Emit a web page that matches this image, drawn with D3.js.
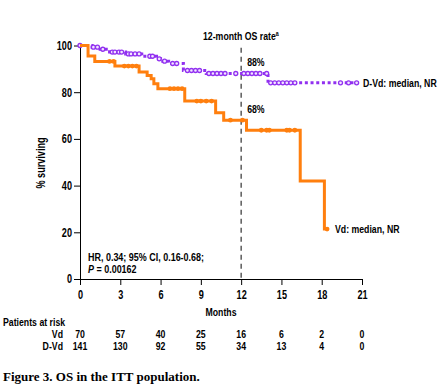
<!DOCTYPE html>
<html><head><meta charset="utf-8">
<script src="https://cdn.jsdelivr.net/npm/d3@7"></script>
<style>
body{margin:0;background:#fff;}
text{font-family:"Liberation Sans",Arial,sans-serif;font-weight:bold;fill:#000;}
</style></head><body>
<svg id="c" width="441" height="391"></svg>
<script>
// ---- data ----
const xTicks = [0,3,6,9,12,15,18,21];
const yTicks = [0,20,40,60,80,100];
// Vd (orange): step times and survival after each step
const vdTimes = [0, 0.6, 1.1, 2.6, 4.4, 5.0, 5.3, 5.5, 5.8, 7.8, 10.1, 10.7, 12.4, 16.4, 18.2, 18.4];
const vdSurv  = [100, 95.5, 93.2, 91.2, 88.6, 87.2, 85.8, 83.6, 81.5, 76.2, 71.2, 68.0, 63.7, 42.0, 21.4, 21.4];
const vdCensor = [2.2, 2.5, 3.3, 3.6, 3.9, 4.2, 6.7, 7.0, 7.3, 7.6, 8.7, 9.0, 9.4, 9.8, 11.2, 12.1, 13.5, 13.9, 14.1, 15.4, 15.6, 16.0, 18.4];
// D-Vd (purple)
const dvdTimes = [0, 0.9, 1.5, 2.2, 3.4, 4.6, 5.7, 6.0, 6.6, 7.7, 9.4, 14.0, 20.6];
const dvdSurv  = [100, 99.3, 98.4, 97.2, 96.4, 95.4, 94.3, 93.3, 92.3, 89.3, 88.0, 84.0, 84.0];
const dvdCensor = [0, 1.0, 1.3, 1.7, 2.4, 2.6, 2.9, 3.1, 3.6, 3.8, 4.1, 4.4, 5.2, 5.4, 5.9, 6.3, 6.9, 7.2, 8.0, 8.3, 8.6, 8.9, 9.6, 9.9, 10.2, 10.5, 10.8, 11.6, 12.2, 12.5, 12.8, 13.1, 13.4, 13.9, 14.2, 14.5, 14.8, 15.1, 15.4, 15.7, 16.0, 19.4, 20.0, 20.6];
const riskRows = ["Vd","D-Vd"];
const riskVd  = [70,57,40,25,16,6,2,0];
const riskDVd = [141,130,92,55,34,13,4,0];
const rate12 = {vd:68, dvd:88};

// ---- scales ----
const svg = d3.select("#c");
const x = d3.scaleLinear().domain([0,21]).range([80,362]);
const y = d3.scaleLinear().domain([0,100]).range([279,45.5]);
const ORANGE = "#ff7f0e", PURPLE = "#9130f0";
const SX = 0.76; // condensed look

function txt(px, py, str, anchor, size){
  return svg.append("text")
    .attr("transform",`translate(${px},${py}) scale(${SX},1)`)
    .attr("text-anchor",anchor||"start").attr("font-size",size||11.5).text(str);
}

// axes
const gx = svg.append("g").attr("transform","translate(0,279)")
  .call(d3.axisBottom(x).tickValues(xTicks).tickSize(6).tickSizeOuter(0).tickPadding(5));
const gy = svg.append("g").attr("transform","translate(80,0)")
  .call(d3.axisLeft(y).tickValues(yTicks).tickSize(6).tickSizeOuter(0).tickPadding(2));
[gx,gy].forEach(g=>{
  g.selectAll("path,line").attr("stroke","#000").attr("stroke-width",1);
  g.selectAll("text").attr("font-size",12).attr("font-family",null).style("font-weight","bold")
    .attr("transform",`scale(${SX},1)`);
});
gy.selectAll("text").attr("x",-8/SX);

// dashed 12-month line
svg.append("line").attr("x1",x(12)).attr("x2",x(12)).attr("y1",y(99)).attr("y2",y(0))
  .attr("stroke","#333").attr("stroke-width",1.2).attr("stroke-dasharray","5,4");

const line = d3.line().x(d=>x(d[0])).y(d=>y(d[1])).curve(d3.curveStepAfter);
function survAt(times, surv, t){ let v=surv[0]; for(let i=0;i<times.length;i++){ if(times[i]<=t) v=surv[i]; } return v; }

// D-Vd curve
svg.append("path").datum(dvdTimes.map((t,i)=>[t,dvdSurv[i]]))
  .attr("d",line).attr("fill","none").attr("stroke",PURPLE).attr("stroke-width",3)
  .attr("stroke-dasharray","3,2.7");
svg.append("g").selectAll("circle").data(dvdCensor).join("circle")
  .attr("cx",d=>x(d)).attr("cy",d=>y(survAt(dvdTimes,dvdSurv,d)))
  .attr("r",2).attr("fill","#f3e6ff").attr("stroke",PURPLE).attr("stroke-width",1.3);

// Vd curve
svg.append("path").datum(vdTimes.map((t,i)=>[t,vdSurv[i]]))
  .attr("d",line).attr("fill","none").attr("stroke",ORANGE).attr("stroke-width",3);
svg.append("g").selectAll("circle").data(vdCensor).join("circle")
  .attr("cx",d=>x(d)).attr("cy",d=>y(survAt(vdTimes,vdSurv,d)))
  .attr("r",2.4).attr("fill",ORANGE);

// annotations
const t1 = txt(203, 40, "", "start", 11.5);
t1.append("tspan").text("12-month OS rate");
t1.append("tspan").text("a").attr("font-size",7).attr("dy",-4);
txt(x(12)+6, y(rate12.dvd)-8, rate12.dvd+"%");
txt(x(12)+6, y(rate12.vd)-7, rate12.vd+"%");
txt(363, y(84)+4, "D-Vd: median, NR");
txt(335, y(21.4)+4, "Vd: median, NR");
txt(88, 260.5, "HR, 0.34; 95% CI, 0.16-0.68;", "start", 11.8);
const pt = txt(88, 273, "", "start", 11.8);
pt.append("tspan").text("P").attr("font-style","italic");
pt.append("tspan").text(" = 0.00162");

// axis titles
svg.append("text").attr("transform",`translate(45,163) rotate(-90) scale(${SX},1)`).attr("text-anchor","middle")
  .attr("font-size",12).text("% surviving");
txt(221, 316, "Months", "middle");

// risk table
txt(3, 326, "Patients at risk");
[riskVd, riskDVd].forEach((row,ri)=>{
  const yy = 338 + ri*12;
  txt(63, yy, riskRows[ri], "end");
  row.forEach((d,i)=> txt(x(xTicks[i]), yy, d, "middle"));
});

// caption
svg.append("text").attr("x",3).attr("y",381).attr("font-size",13)
  .style("font-family","'Liberation Serif','Times New Roman',serif").text("Figure 3. OS in the ITT population.");
</script>
</body></html>
